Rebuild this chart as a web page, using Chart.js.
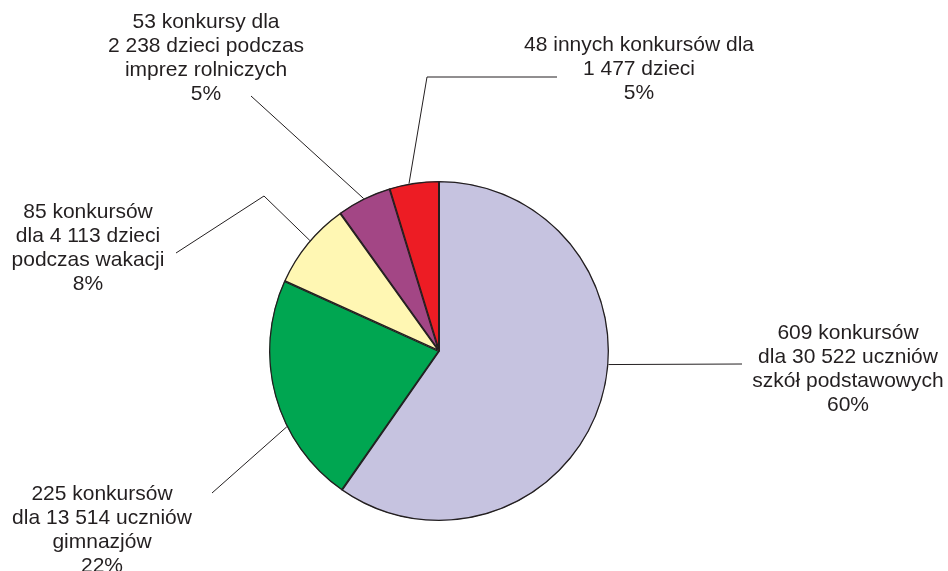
<!DOCTYPE html>
<html>
<head>
<meta charset="utf-8">
<script src="https://cdn.jsdelivr.net/npm/chart.js@4"></script>
<style>
  body { margin: 0; background: #ffffff; }
  #chartscreen { display: block; }
</style>
</head>
<body>
<canvas id="chartscreen" width="948" height="571"></canvas>
<script>
// slice data, clockwise from 12 o'clock
const categories = ["szkoły podstawowe", "gimnazja", "wakacje", "imprezy rolnicze", "inne"];
const contests = [609, 225, 85, 53, 48];
const percents = ["60%", "22%", "8%", "5%", "5%"];
const labelLines = [
  ["609 konkursów", "dla 30 522 uczniów", "szkół podstawowych"],
  ["225 konkursów", "dla 13 514 uczniów", "gimnazjów"],
  ["85 konkursów", "dla 4 113 dzieci", "podczas wakacji"],
  ["53 konkursy dla", "2 238 dzieci podczas", "imprez rolniczych"],
  ["48 innych konkursów dla", "1 477 dzieci"]
];
const sliceColors = ["#c6c3e0", "#00a651", "#fff7b3", "#a34685", "#ed1c24"];

// label placement (text centre x, first line centre y), leader elbows, and where on the slice the line touches
const labelPos = [[848, 331], [102, 492], [88, 210], [206, 20], [639, 43]];
const leaderFrom = [
  [[742, 364]],
  [[212, 493]],
  [[176, 253], [264, 196]],
  [[251, 96]],
  [[557, 77], [427, 77]]
];
const anchorFrac = [0.44, 0.36, 0.54, 0.5, 0.4];

const lineHeight = 24;
const inkColor = "#231f20";

// draws the leader lines and multi-line labels
const calloutPlugin = {
  id: "callouts",
  afterDraw(chart) {
    const ctx = chart.ctx;
    const arcs = chart.getDatasetMeta(0).data;
    ctx.save();
    ctx.strokeStyle = inkColor;
    ctx.lineWidth = 1;
    ctx.fillStyle = inkColor;
    ctx.font = "21px 'Liberation Sans', Arial, sans-serif";
    ctx.textAlign = "center";
    ctx.textBaseline = "alphabetic";

    for (var i = 0; i < arcs.length; i++) {
      const a = arcs[i];
      const ang = a.startAngle + (a.endAngle - a.startAngle) * anchorFrac[i];
      const ex = a.x + Math.cos(ang) * a.outerRadius;
      const ey = a.y + Math.sin(ang) * a.outerRadius;

      ctx.beginPath();
      const pts = leaderFrom[i];
      ctx.moveTo(pts[0][0], pts[0][1]);
      for (var j = 1; j < pts.length; j++) {
        ctx.lineTo(pts[j][0], pts[j][1]);
      }
      ctx.lineTo(ex, ey);
      ctx.stroke();

      const lines = labelLines[i].concat([percents[i]]);
      for (var k = 0; k < lines.length; k++) {
        ctx.fillText(lines[k], labelPos[i][0], labelPos[i][1] + k * lineHeight + 7.5);
      }
    }
    ctx.restore();
  }
};

const chart_canvas = document.getElementById("chartscreen");

new Chart(chart_canvas, {
  type: "pie",
  data: {
    labels: categories,
    datasets: [{
      label: "Liczba konkursów",
      data: contests,
      backgroundColor: sliceColors,
      borderColor: inkColor,
      borderWidth: 1,
      borderAlign: "inner"
    }]
  },
  options: {
    responsive: false,
    animation: false,
    layout: {
      padding: { left: 269, right: 339, top: 181, bottom: 50 }
    },
    plugins: {
      legend: { display: false },
      tooltip: { enabled: false }
    }
  },
  plugins: [calloutPlugin]
});
</script>
</body>
</html>
